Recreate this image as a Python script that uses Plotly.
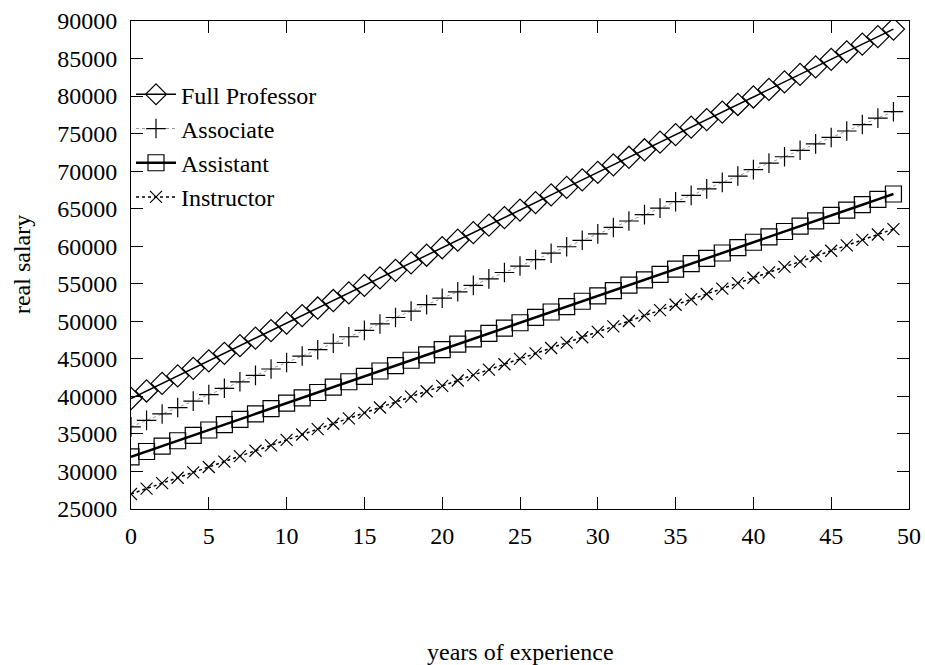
import plotly.graph_objects as go

years = list(range(50))

full_professor = [39720, 40720, 41730, 42730, 43740, 44740, 45740, 46750, 47750, 48760,
                  49760, 50760, 51770, 52770, 53780, 54780, 55780, 56790, 57790, 58800,
                  59800, 60800, 61810, 62810, 63820, 64820, 65820, 66830, 67830, 68840,
                  69840, 70840, 71850, 72850, 73860, 74860, 75860, 76870, 77870, 78880,
                  79880, 80880, 81890, 82890, 83900, 84900, 85900, 86910, 87910, 88920]
associate = [35940, 36800, 37660, 38510, 39370, 40230, 41080, 41940, 42800, 43650,
             44510, 45370, 46220, 47080, 47940, 48790, 49650, 50510, 51360, 52220,
             53080, 53930, 54790, 55650, 56500, 57360, 58220, 59070, 59930, 60790,
             61640, 62500, 63360, 64210, 65070, 65930, 66780, 67640, 68500, 69350,
             70210, 71070, 71920, 72780, 73640, 74490, 75350, 76210, 77060, 77920]
assistant = [31950, 32660, 33380, 34090, 34810, 35520, 36240, 36950, 37670, 38380,
             39100, 39810, 40520, 41240, 41950, 42670, 43380, 44100, 44810, 45530,
             46240, 46960, 47670, 48380, 49100, 49810, 50530, 51240, 51960, 52670,
             53390, 54100, 54820, 55530, 56240, 56960, 57670, 58390, 59100, 59820,
             60530, 61250, 61960, 62680, 63390, 64100, 64820, 65530, 66250, 66960]
instructor = [27000, 27720, 28440, 29160, 29880, 30600, 31320, 32040, 32760, 33480,
              34200, 34920, 35640, 36360, 37080, 37800, 38520, 39240, 39960, 40680,
              41400, 42120, 42840, 43560, 44280, 45000, 45720, 46440, 47160, 47880,
              48600, 49320, 50040, 50760, 51480, 52200, 52920, 53640, 54360, 55080,
              55800, 56520, 57240, 57960, 58680, 59400, 60120, 60840, 61560, 62280]

x_ticks = [0, 5, 10, 15, 20, 25, 30, 35, 40, 45, 50]
y_ticks = [25000, 30000, 35000, 40000, 45000, 50000, 55000, 60000, 65000, 70000, 75000,
           80000, 85000, 90000]

FONT = "Liberation Serif, Times New Roman, serif"
FS = 24

fig = go.Figure()
fig.add_trace(go.Scatter(
    x=years, y=full_professor, name="Full Professor", mode="lines+markers",
    line=dict(color="black", width=1.5),
    marker=dict(symbol="diamond-open", size=17, color="black", line=dict(width=1.2))))
fig.add_trace(go.Scatter(
    x=years, y=associate, name="Associate", mode="lines+markers",
    line=dict(color="#999999", width=1, dash="dot"),
    marker=dict(symbol="cross-thin-open", size=14, color="black", line=dict(width=1.2, color="black"))))
fig.add_trace(go.Scatter(
    x=years, y=assistant, name="Assistant", mode="lines+markers",
    line=dict(color="black", width=2.5),
    marker=dict(symbol="square-open", size=16, color="black", line=dict(width=1.2))))
fig.add_trace(go.Scatter(
    x=years, y=instructor, name="Instructor", mode="lines+markers",
    line=dict(color="black", width=1.5, dash="dot"),
    marker=dict(symbol="x-thin-open", size=12, color="black", line=dict(width=1.2, color="black"))))

axis_common = dict(
    showgrid=False, zeroline=False, showline=True, linecolor="black", linewidth=1,
    mirror="ticks", ticks="inside", ticklen=12, tickcolor="black", tickwidth=1,
    tickfont=dict(family=FONT, size=FS, color="black"), automargin=False,
)

fig.update_layout(
    width=925, height=665,
    margin=dict(l=131, r=16, t=21, b=156),
    paper_bgcolor="white", plot_bgcolor="white",
    font=dict(family=FONT, size=FS, color="black"),
    xaxis=dict(range=[0, 50], tickvals=x_ticks, ticktext=[str(v) for v in x_ticks],
               ticklabelstandoff=5, **axis_common),
    yaxis=dict(range=[25000, 90000], tickvals=y_ticks, ticktext=[str(v) for v in y_ticks],
               ticklabelstandoff=8, **axis_common),
    legend=dict(x=0.0, y=0.895, xanchor="left", yanchor="top",
                bgcolor="rgba(0,0,0,0)", font=dict(family=FONT, size=FS),
                itemwidth=40, tracegroupgap=0),
    annotations=[
        dict(text="years of experience", xref="paper", yref="paper", x=0.5, y=-0.293,
             xanchor="center", yanchor="middle", showarrow=False,
             font=dict(family=FONT, size=FS, color="black")),
        dict(text="real salary", xref="paper", yref="paper", x=-0.14, y=0.5,
             xanchor="center", yanchor="middle", showarrow=False, textangle=-90,
             font=dict(family=FONT, size=FS, color="black")),
    ],
)

fig.write_html("out.html")
